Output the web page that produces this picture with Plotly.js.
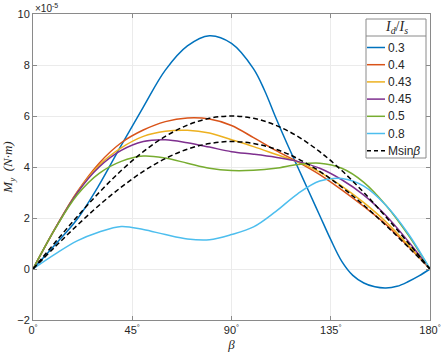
<!DOCTYPE html>
<html>
<head>
<meta charset="utf-8">
<script src="https://cdn.plot.ly/plotly-3.0.1.min.js"></script>
<style>
  html, body { margin: 0; padding: 0; background: #fff; }
  #chart { width: 443px; height: 358px; }
</style>
</head>
<body>
<div id="chart"></div>
<script>
// beta in degrees
const beta = [0, 10, 20, 30, 40, 50, 60, 70, 80, 90, 100, 110, 120, 130, 140, 150, 160, 170, 180];
// finer steps for the 0.3 curve, which bends sharply near its minimum
const beta03 = [0, 10, 20, 30, 40, 50, 60, 70, 80, 90, 100, 105, 110, 115, 120, 125, 130, 135, 140, 145, 150, 155, 160, 165, 170, 175, 180];

// M_y values (x1e-5 N*m)
const my03 = [0, 0.95, 1.95, 3.3, 4.85, 6.35, 7.8, 8.75, 9.15, 8.85, 7.85, 7.0, 5.95, 4.95, 4.0, 3.05, 2.1, 1.15, 0.3, -0.25, -0.55, -0.7, -0.745, -0.68, -0.5, -0.27, 0];
const my04 = [0, 1.58, 3.02, 4.15, 4.95, 5.45, 5.78, 5.92, 5.88, 5.63, 5.15, 4.65, 4.2, 3.7, 3.1, 2.45, 1.75, 0.9, 0];
const my043 = [0, 1.58, 3.0, 4.07, 4.75, 5.2, 5.4, 5.44, 5.33, 5.07, 4.8, 4.5, 4.2, 3.8, 3.25, 2.6, 1.85, 0.95, 0];
const my045 = [0, 1.58, 2.98, 4.0, 4.65, 5.0, 5.07, 4.95, 4.78, 4.6, 4.5, 4.38, 4.22, 3.95, 3.5, 2.9, 2.1, 1.1, 0];
const my05 = [0, 1.57, 2.9, 3.75, 4.22, 4.43, 4.35, 4.15, 3.95, 3.86, 3.87, 3.95, 4.1, 4.15, 3.95, 3.4, 2.5, 1.35, 0];
const my08 = [0, 0.58, 1.1, 1.45, 1.67, 1.55, 1.35, 1.18, 1.15, 1.35, 1.65, 2.25, 2.95, 3.45, 3.55, 3.25, 2.5, 1.4, 0];
const msinHigh = [0, 1.04, 2.05, 3.0, 3.86, 4.6, 5.2, 5.64, 5.91, 6.0, 5.91, 5.64, 5.2, 4.6, 3.86, 3.0, 2.05, 1.04, 0];
const msinLow = [0, 0.87, 1.71, 2.5, 3.21, 3.83, 4.33, 4.7, 4.92, 5.0, 4.92, 4.7, 4.33, 3.83, 3.21, 2.5, 1.71, 0.87, 0];

const ratioLabels = ['0.3', '0.4', '0.43', '0.45', '0.5', '0.8'];
const ratioSeries = [my03, my04, my043, my045, my05, my08];
const ratioX = [beta03, beta, beta, beta, beta, beta];
const ratioColors = ['#0072BD', '#D95319', '#EDB120', '#7E2F8E', '#77AC30', '#4DBEEE'];

const xTicks = [0, 45, 90, 135, 180];
const xTickLabels = ['0<sup>°</sup>', '45<sup>°</sup>', '90<sup>°</sup>', '135<sup>°</sup>', '180<sup>°</sup>'];
const yTicks = [-2, 0, 2, 4, 6, 8, 10];

// plot area in pixels (for legend placement)
const W = 443, H = 358;
const M = { l: 33, r: 13, t: 14, b: 38 };
const px = x => (x - M.l) / (W - M.l - M.r);
const py = y => (H - M.b - y) / (H - M.t - M.b);

const FONT = 'Liberation Sans, Arial, sans-serif';
const SERIF = 'Liberation Serif, DejaVu Serif, serif';
const TEXT = '#262626';
const AXIS = '#8a8a8a';

const traces = ratioSeries.map((ys, i) => ({
    x: ratioX[i],
    y: ys,
    type: 'scatter',
    mode: 'lines',
    name: ratioLabels[i],
    line: { color: ratioColors[i], width: 1.5, shape: 'spline', smoothing: 1 },
    showlegend: false,
    hoverinfo: 'skip'
}));

[msinHigh, msinLow].forEach(ys => {
    traces.push({
        x: beta,
        y: ys,
        type: 'scatter',
        mode: 'lines',
        name: 'Msinβ',
        line: { color: '#000', width: 1.5, dash: '5px,3px', shape: 'spline', smoothing: 1 },
        showlegend: false,
        hoverinfo: 'skip'
    });
});

// hand-built MATLAB-style legend
const legendLabels = ratioLabels.concat(['Msin<i>β</i>']);
const legendColors = ratioColors.concat(['#000']);
const box = { x0: 366, x1: 426, y0: 19, y1: 158, sep: 36, first: 47.5, step: 17.2 };

const shapes = [
    { type: 'rect', xref: 'paper', yref: 'paper', x0: px(box.x0), x1: px(box.x1), y0: py(box.y0), y1: py(box.y1),
      fillcolor: '#fff', line: { color: AXIS, width: 1 }, layer: 'above' },
    { type: 'line', xref: 'paper', yref: 'paper', x0: px(box.x0), x1: px(box.x1), y0: py(box.sep), y1: py(box.sep),
      line: { color: AXIS, width: 1 }, layer: 'above' }
];
const annotations = [
    { xref: 'paper', yref: 'paper', x: px((box.x0 + box.x1) / 2), y: py((box.y0 + box.sep) / 2),
      text: '<i>I<sub>d</sub></i>/<i>I<sub>s</sub></i>', showarrow: false, xanchor: 'center', yanchor: 'middle',
      font: { family: SERIF, size: 14, color: TEXT } },
    { xref: 'paper', yref: 'paper', x: 0, y: 1, text: '×10<sup>-5</sup>', showarrow: false,
      xanchor: 'left', yanchor: 'bottom', yshift: -2, font: { family: FONT, size: 10, color: TEXT } }
];

legendLabels.forEach((label, i) => {
    const yy = box.first + i * box.step;
    shapes.push({
        type: 'line', xref: 'paper', yref: 'paper', x0: px(367), x1: px(385), y0: py(yy), y1: py(yy),
        line: { color: legendColors[i], width: 1.5, dash: i === legendLabels.length - 1 ? '4px,3px' : 'solid' },
        layer: 'above'
    });
    annotations.push({
        xref: 'paper', yref: 'paper', x: px(385.5), y: py(yy), text: label, showarrow: false,
        xanchor: 'left', yanchor: 'middle', font: { family: FONT, size: 12, color: TEXT }
    });
});

const layout = {
    width: W,
    height: H,
    margin: M,
    paper_bgcolor: '#fff',
    plot_bgcolor: '#fff',
    showlegend: false,
    xaxis: {
        range: [0, 180],
        tickvals: xTicks,
        ticktext: xTickLabels,
        ticks: 'inside',
        ticklen: 4,
        tickcolor: AXIS,
        showline: true,
        linecolor: AXIS,
        linewidth: 1,
        mirror: 'ticks',
        showgrid: true,
        gridcolor: '#ebebeb',
        zeroline: false,
        tickfont: { family: FONT, size: 11, color: TEXT },
        title: { text: '<i>β</i>', font: { family: SERIF, size: 13, color: TEXT }, standoff: 4 }
    },
    yaxis: {
        range: [-2, 10],
        tickvals: yTicks,
        ticks: 'inside',
        ticklen: 4,
        tickcolor: AXIS,
        showline: true,
        linecolor: AXIS,
        linewidth: 1,
        mirror: 'ticks',
        showgrid: true,
        gridcolor: '#ebebeb',
        zeroline: false,
        tickfont: { family: FONT, size: 11, color: TEXT },
        title: { text: '<i>M<sub>y</sub></i>  <i>(N·m)</i>', font: { family: SERIF, size: 13, color: TEXT }, standoff: 2 }
    },
    shapes: shapes,
    annotations: annotations
};

Plotly.newPlot('chart', traces, layout, { displayModeBar: false, staticPlot: true });
</script>
</body>
</html>
